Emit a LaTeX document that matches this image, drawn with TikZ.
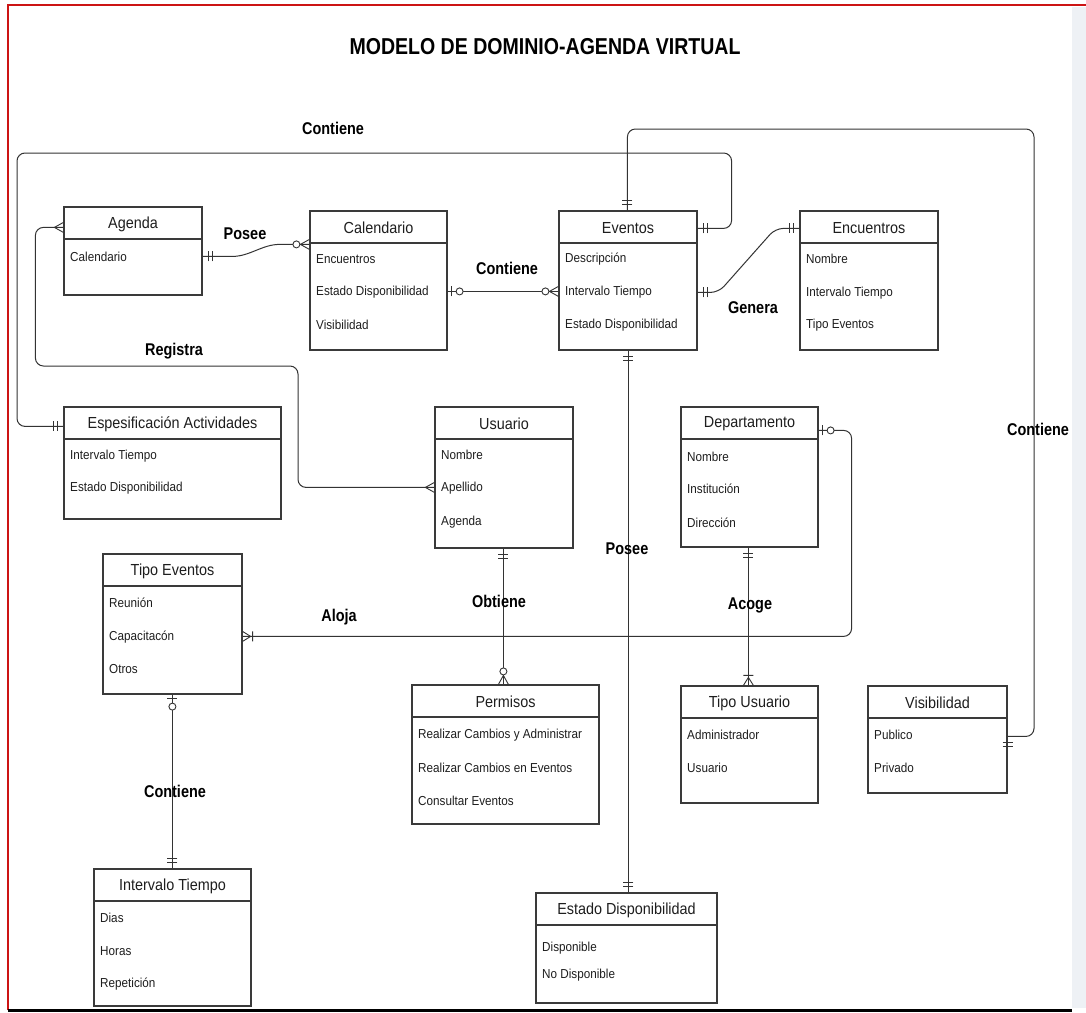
\documentclass[tikz,border=0pt]{standalone}
\usepackage{fontspec}
\setmainfont{Liberation Sans}
\newfontfamily\entfont[FakeStretch=0.9]{Liberation Sans}
\newfontfamily\lblfont[FakeStretch=0.85]{Liberation Sans}
\usetikzlibrary{fit,calc}
\definecolor{boxc}{HTML}{3A3A3A}
\definecolor{linec}{HTML}{333333}
\definecolor{framered}{HTML}{CC1414}
\definecolor{stripc}{HTML}{EEF1F5}
\definecolor{txtc}{HTML}{1E1E1E}
\tikzset{
 ebox/.style={draw=boxc, line width=1.2pt, inner sep=0pt, fill=white},
 hline/.style={draw=boxc, line width=1.2pt},
 hdr/.style={font=\entfont\fontsize{16}{18}\selectfont, text=txtc, inner sep=0pt},
 attr/.style={font=\entfont\fontsize{13}{15}\selectfont, anchor=west, inner sep=0pt, text=txtc},
 rel/.style={draw=linec, line width=1pt, rounded corners=8pt},
 lbl/.style={font=\lblfont\bfseries\fontsize{17}{19}\selectfont, text=black, inner sep=0pt},
 mk/.style={draw=linec, line width=0.9pt},
}
\newcommand\entity[7]{%
 \node[ebox, fit={(#2,#3) (#4,#5)}] (#1) {};
 \node[hdr] (#1-h) at ({(#2+#4)/2},{#3+17}) {#6};
 \draw[hline] (#2,#3+32) -- (#4,#3+32);
 \foreach \yy/\atxt [count=\i] in {#7} {\node[attr] (#1-a\i) at (#2+6,\yy) {\atxt};}
}
% end marks: #1 coordinate, #2 outward direction angle
\newcommand\mOne[2]{\begin{scope}[shift={(#1)},rotate=#2]
 \draw[mk] (6pt,-5pt)--(6pt,5pt) (10pt,-5pt)--(10pt,5pt);\end{scope}}
\newcommand\mMany[2]{\begin{scope}[shift={(#1)},rotate=#2]
 \draw[mk] (0pt,5pt)--(9pt,0pt)--(0pt,-5pt);\end{scope}}
\newcommand\mZeroMany[2]{\begin{scope}[shift={(#1)},rotate=#2]
 \draw[mk] (0pt,5pt)--(9pt,0pt)--(0pt,-5pt);
 \draw[mk,fill=white] (13pt,0pt) circle (3.5pt);\end{scope}}
\newcommand\mZeroOne[2]{\begin{scope}[shift={(#1)},rotate=#2]
 \draw[mk] (4pt,-5pt)--(4pt,5pt);
 \draw[mk,fill=white] (12pt,0pt) circle (3.5pt);\end{scope}}
\newcommand\mOneMany[2]{\begin{scope}[shift={(#1)},rotate=#2]
 \draw[mk] (0pt,5pt)--(8pt,0pt)--(0pt,-5pt) (10pt,-5pt)--(10pt,5pt);\end{scope}}
\begin{document}
\begin{tikzpicture}[x=1pt,y=-1pt]
\useasboundingbox (0,0) rectangle (1086,1012);
\fill[white] (0,0) rectangle (1086,1012);
\fill[stripc] (1072,7) rectangle (1086,1008);
\draw[framered, line width=2.5pt] (8,1010) -- (8,5) -- (1086,5);
\draw[black, line width=3pt] (8,1010.5) -- (1072,1010.5);

\node[lbl, font=\lblfont\bfseries\fontsize{23}{26}\selectfont] (title) at (545,47) {MODELO DE DOMINIO-AGENDA VIRTUAL};

% entities
\entity{agenda}{64}{207}{202}{295}{Agenda}{257/Calendario}
\entity{calendario}{310}{211}{447}{350}{Calendario}{259/Encuentros, 292/Estado Disponibilidad, 325/Visibilidad}
\entity{eventos}{559}{211}{697}{350}{Eventos}{259/Descripción, 292/Intervalo Tiempo, 325/Estado Disponibilidad}
\entity{encuentros}{800}{211}{938}{350}{Encuentros}{259/Nombre, 293/Intervalo Tiempo, 325/Tipo Eventos}
\entity{espes}{64}{407}{281}{519}{Espesificación Actividades}{456/Intervalo Tiempo, 488/Estado Disponibilidad}
\entity{usuario}{435}{407}{573}{548}{Usuario}{455/Nombre, 488/Apellido, 522/Agenda}
\entity{departamento}{681}{407}{818}{547}{Departamento}{457/Nombre, 489/Institución, 523/Dirección}
\entity{tipoeventos}{103}{554}{242}{694}{Tipo Eventos}{603/Reunión, 637/Capacitacón, 669/Otros}
\entity{permisos}{412}{685}{599}{824}{Permisos}{735/Realizar Cambios y Administrar, 768/Realizar Cambios en Eventos, 801/Consultar Eventos}
\entity{tipousuario}{681}{686}{818}{803}{Tipo Usuario}{735/Administrador, 768/Usuario}
\entity{visibilidad}{868}{686}{1007}{793}{Visibilidad}{735/Publico, 768/Privado}
\entity{intervalo}{94}{869}{251}{1006}{Intervalo Tiempo}{918/Dias, 951/Horas, 984/Repetición}
\entity{estado}{536}{893}{717}{1003}{Estado Disponibilidad}{948/Disponible, 975/No Disponible}

% connector end points
\coordinate (agE) at ($(agenda.north east)+(0,50)$);
\coordinate (calW) at ($(calendario.north west)+(0,34)$);
\coordinate (calE) at ($(calendario.north east)+(0,81)$);
\coordinate (evW) at ($(eventos.north west)+(0,81)$);
\coordinate (evE1) at ($(eventos.north east)+(0,18)$);
\coordinate (evE2) at ($(eventos.north east)+(0,82)$);
\coordinate (encW) at ($(encuentros.north west)+(0,18)$);
\coordinate (evN) at ($(eventos.north west)+(69,0)$);
\coordinate (evS) at ($(eventos.south west)+(70,0)$);
\coordinate (esW) at ($(espes.north west)+(0,20)$);
\coordinate (agW) at ($(agenda.north west)+(0,21)$);
\coordinate (usW) at ($(usuario.north west)+(0,81)$);
\coordinate (usS) at ($(usuario.south west)+(69,0)$);
\coordinate (peN) at ($(permisos.north west)+(92,0)$);
\coordinate (deE) at ($(departamento.north east)+(0,24)$);
\coordinate (teE) at ($(tipoeventos.north east)+(0,83)$);
\coordinate (deS) at ($(departamento.south west)+(68,0)$);
\coordinate (tuN) at ($(tipousuario.north west)+(68,0)$);
\coordinate (teS) at ($(tipoeventos.south west)+(70,0)$);
\coordinate (itN) at ($(intervalo.north west)+(79,0)$);
\coordinate (esN) at ($(estado.north west)+(93,0)$);
\coordinate (viE) at ($(visibilidad.north east)+(0,51)$);

% connectors
\draw[rel] (agE) -- ++(22,0) to[out=0,in=180] ($(calW)+(-22,0)$) -- (calW);
\draw[rel] (calE) -- (evW);
\draw[rel] (evE2) -- ++(21,0) -- ($(encW)+(-24,0)$) -- (encW);
\draw[rel] (evE1) -- ++(34,0) |- (17,153) |- (esW);
\draw[rel] (evN) |- (1034,129) |- (viE);
\draw[rel] (agW) -- ++(-28,0) |- (298,366) |- (usW);
\draw[rel] (evS) -- (esN);
\draw[rel] (usS) -- (peN);
\draw[rel] (deE) -- ++(33,0) |- (teE);
\draw[rel] (deS) -- (tuN);
\draw[rel] (teS) -- (itN);

% marks
\mOne{agE}{0}
\mZeroMany{calW}{180}
\mZeroOne{calE}{0}
\mZeroMany{evW}{180}
\mOne{evE2}{0}
\mOne{encW}{180}
\mOne{evE1}{0}
\mOne{esW}{180}
\mOne{evN}{90}
\mOne{viE}{-90}
\mMany{agW}{180}
\mMany{usW}{180}
\mOne{evS}{-90}
\mOne{esN}{90}
\mOne{usS}{-90}
\mZeroMany{peN}{90}
\mZeroOne{deE}{0}
\mOneMany{teE}{0}
\mOne{deS}{-90}
\mOneMany{tuN}{90}
\mZeroOne{teS}{-90}
\mOne{itN}{90}

% labels
\node[lbl] (l1) at (245,234) {Posee};
\node[lbl] (l2) at (507,268) {Contiene};
\node[lbl] (l3) at (753,308) {Genera};
\node[lbl] (l4) at (333,128) {Contiene};
\node[lbl] (l5) at (1038,429) {Contiene};
\node[lbl] (l6) at (174,351) {Registra};
\node[lbl] (l7) at (627,549) {Posee};
\node[lbl] (l8) at (499,601) {Obtiene};
\node[lbl] (l9) at (339,617) {Aloja};
\node[lbl] (l10) at (750,605) {Acoge};
\node[lbl] (l11) at (175,791) {Contiene};
\end{tikzpicture}
\end{document}
